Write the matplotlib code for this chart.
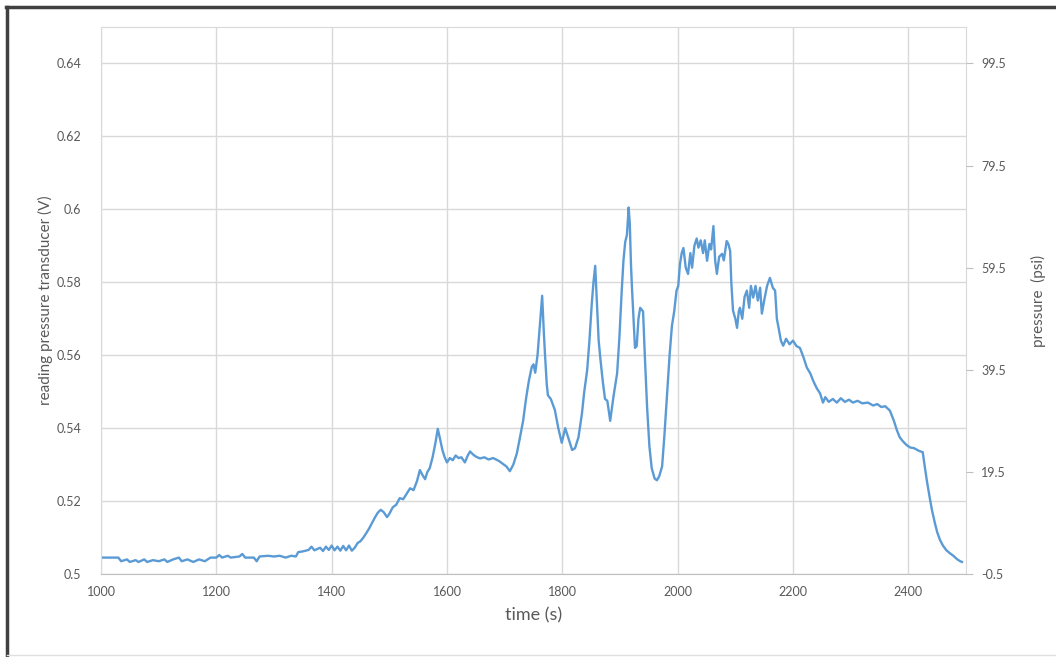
import numpy as np
import matplotlib.pyplot as plt
from matplotlib.lines import Line2D

# time (s) and transducer reading (V)
time_s = [1000, 1030, 1035, 1045, 1050, 1060, 1065, 1075, 1080, 1090, 1100, 1110, 1115, 1125,
          1135, 1140, 1150, 1160, 1170, 1180, 1190, 1200, 1205, 1210, 1220, 1225, 1240, 1245,
          1250, 1265, 1270, 1275, 1290, 1300, 1310, 1320, 1330, 1338, 1342, 1350, 1360, 1365,
          1370, 1380, 1385, 1390, 1395, 1400, 1405, 1410, 1415, 1420, 1425, 1430, 1435, 1440,
          1445, 1450, 1455, 1460, 1465, 1470, 1475, 1480, 1485, 1490, 1496, 1500, 1506, 1512,
          1518, 1524, 1530, 1536, 1542, 1548, 1553, 1558, 1562, 1566, 1570, 1575, 1580, 1584,
          1588, 1592, 1596, 1600, 1605, 1610, 1615, 1620, 1625, 1631, 1636, 1640, 1645, 1650,
          1657, 1665, 1672, 1680, 1690, 1697, 1703, 1709, 1715, 1721, 1726, 1732, 1737, 1742,
          1747, 1750, 1753, 1757, 1761, 1765, 1768, 1770, 1773, 1775, 1780, 1787, 1793, 1799,
          1805, 1811, 1817, 1822, 1828, 1834, 1838, 1843, 1847, 1851, 1854, 1857, 1860, 1863,
          1866, 1870, 1874, 1878, 1883, 1889, 1895, 1899, 1903, 1906, 1909, 1912, 1915, 1917,
          1919, 1921, 1924, 1926, 1929, 1932, 1935, 1940, 1943, 1947, 1951, 1955, 1960, 1964,
          1968, 1973, 1977, 1981, 1986, 1990, 1994, 1998, 2001, 2004, 2007, 2010, 2014, 2018,
          2022, 2025, 2029, 2033, 2036, 2040, 2044, 2047, 2051, 2055, 2058, 2062, 2065, 2068,
          2072, 2077, 2080, 2085, 2088, 2091, 2093, 2096, 2100, 2103, 2106, 2108, 2112, 2116,
          2120, 2124, 2127, 2131, 2135, 2139, 2143, 2146, 2150, 2155, 2160, 2165, 2169, 2172,
          2175, 2179, 2183, 2188, 2194, 2200, 2206, 2212, 2218, 2224, 2230, 2235, 2241, 2247,
          2252, 2256, 2262, 2269, 2276, 2283, 2290, 2297, 2304, 2312, 2320, 2330, 2339, 2346,
          2353, 2360, 2368, 2375, 2380, 2385, 2390, 2396, 2403, 2410, 2418, 2425, 2428, 2432,
          2437, 2441, 2446, 2450, 2455, 2460, 2466, 2472, 2478, 2485, 2490, 2493]
reading_v = [0.5045, 0.5045, 0.5035, 0.5040, 0.5033, 0.5038, 0.5033, 0.5040, 0.5033, 0.5038,
             0.5035, 0.5040, 0.5033, 0.5040, 0.5045, 0.5035, 0.5040, 0.5033, 0.5040, 0.5035,
             0.5045, 0.5045, 0.5052, 0.5045, 0.5050, 0.5045, 0.5048, 0.5055, 0.5045, 0.5045,
             0.5035, 0.5048, 0.5050, 0.5048, 0.5050, 0.5045, 0.5050, 0.5048, 0.5060, 0.5062,
             0.5066, 0.5075, 0.5065, 0.5072, 0.5063, 0.5075, 0.5066, 0.5078, 0.5065, 0.5075,
             0.5064, 0.5077, 0.5065, 0.5078, 0.5064, 0.5072, 0.5085, 0.5090, 0.5100, 0.5112,
             0.5125, 0.5140, 0.5155, 0.5168, 0.5176, 0.5170, 0.5156, 0.5165, 0.5183, 0.5190,
             0.5208, 0.5205, 0.5220, 0.5235, 0.5230, 0.5255, 0.5285, 0.5270, 0.5260, 0.5280,
             0.5290, 0.5320, 0.5360, 0.5398, 0.5370, 0.5340, 0.5320, 0.5306, 0.5318, 0.5312,
             0.5325, 0.5318, 0.5320, 0.5306, 0.5325, 0.5336, 0.5328, 0.5322, 0.5317, 0.5320,
             0.5314, 0.5318, 0.5310, 0.5302, 0.5295, 0.5282, 0.5300, 0.5330, 0.5370, 0.5420,
             0.5480, 0.5530, 0.5568, 0.5575, 0.5552, 0.5600, 0.5680, 0.5763, 0.5660, 0.5600,
             0.5520, 0.5490, 0.5480, 0.5450, 0.5400, 0.5360, 0.5400, 0.5370, 0.5340, 0.5345,
             0.5375, 0.5440, 0.5500, 0.5558, 0.5640, 0.5740, 0.5800, 0.5845, 0.5740, 0.5640,
             0.5590, 0.5530, 0.5480, 0.5475, 0.5420, 0.5490, 0.5550, 0.5650, 0.5777, 0.5860,
             0.5910, 0.5930, 0.6005, 0.5960, 0.5850, 0.5777, 0.5680, 0.5620, 0.5625, 0.5700,
             0.5730, 0.5720, 0.5600, 0.5457, 0.5350, 0.5290, 0.5262, 0.5257, 0.5268, 0.5295,
             0.5380, 0.5476, 0.5600, 0.5680, 0.5720, 0.5777, 0.5790, 0.5850, 0.5880, 0.5894,
             0.5840, 0.5823, 0.5880, 0.5840, 0.5900, 0.5920, 0.5895, 0.5915, 0.5880, 0.5915,
             0.5859, 0.5905, 0.5890, 0.5954, 0.5860, 0.5823, 0.5870, 0.5878, 0.5860, 0.5913,
             0.5905, 0.5886, 0.5800, 0.5722, 0.5700, 0.5675, 0.5720, 0.5730, 0.5700, 0.5760,
             0.5777, 0.5730, 0.5790, 0.5758, 0.5790, 0.5750, 0.5785, 0.5714, 0.5750, 0.5790,
             0.5812, 0.5785, 0.5777, 0.5700, 0.5675, 0.5640, 0.5626, 0.5645, 0.5630, 0.5640,
             0.5625, 0.5620, 0.5595, 0.5566, 0.5550, 0.5530, 0.5510, 0.5495, 0.5470, 0.5485,
             0.5472, 0.5480, 0.5470, 0.5482, 0.5472, 0.5478, 0.5470, 0.5475, 0.5468, 0.5470,
             0.5462, 0.5466, 0.5458, 0.5460, 0.5448, 0.5420, 0.5395, 0.5375, 0.5365, 0.5355,
             0.5347, 0.5345, 0.5338, 0.5334, 0.5300, 0.5257, 0.5210, 0.5175, 0.5140, 0.5115,
             0.5093, 0.5078, 0.5065, 0.5057, 0.5050, 0.5040, 0.5035, 0.5033]

x_ticks = [1000, 1200, 1400, 1600, 1800, 2000, 2200, 2400]
v_ticks = [0.5, 0.52, 0.54, 0.56, 0.58, 0.6, 0.62, 0.64]
v_labels = ['0.5', '0.52', '0.54', '0.56', '0.58', '0.6', '0.62', '0.64']
psi_ticks = [-0.5, 19.5, 39.5, 59.5, 79.5, 99.5]


def v_to_psi(v):
    return (v - 0.5) * 100 / 0.14 - 0.5


plt.rcParams['font.family'] = ['Lato', 'DejaVu Sans']
txt = '#595959'
grid = '#d9d9d9'

fig = plt.figure(figsize=(10.56, 6.57), dpi=100)
ax = fig.add_axes([101 / 1056, 1 - 574 / 657, 865 / 1056, 547 / 657])

ax.plot(time_s, reading_v, color='#5b9bd5', lw=1.7)

ax.set_xlim(1000, 2500)
ax.set_ylim(0.5, 0.65)
ax.set_xticks(x_ticks)
ax.set_yticks(v_ticks)
ax.set_yticklabels(v_labels)
ax.grid(True, color=grid, lw=1)
ax.set_axisbelow(True)
for s in ['left', 'right', 'top']:
    ax.spines[s].set_color(grid)
ax.spines['bottom'].set_color('#bfbfbf')
ax.tick_params(axis='both', length=0, labelsize=9, colors=txt)
ax.tick_params(axis='y', pad=14)
ax.tick_params(axis='x', pad=9)
ax.set_xlabel('time (s)', fontsize=13, color=txt, labelpad=6)
ax.set_ylabel('reading pressure transducer (V)', fontsize=11, color=txt, labelpad=3)

ax2 = ax.twinx()
ax2.set_ylim(v_to_psi(0.5), v_to_psi(0.65))
ax2.set_yticks(psi_ticks)
ax2.set_yticklabels([str(p) for p in psi_ticks])
ax2.tick_params(axis='y', length=5, color='#bfbfbf', labelsize=9, colors=txt, pad=6)
for s in ax2.spines.values():
    s.set_visible(False)
ax2.set_ylabel('pressure  (psi)', fontsize=11, color=txt, labelpad=18)

# dark edge on the left and top of the picture
fig.add_artist(Line2D([7 / 1056, 7 / 1056], [0, 1 - 7 / 657], color='#404040', lw=2.5,
                      transform=fig.transFigure))
fig.add_artist(Line2D([6 / 1056, 1], [1 - 7 / 657, 1 - 7 / 657], color='#404040', lw=2.5,
                      transform=fig.transFigure))
fig.add_artist(Line2D([7 / 1056, 1], [2 / 657, 2 / 657], color='#e0e0e0', lw=1,
                      transform=fig.transFigure))

fig.savefig('out.png', dpi=100)
